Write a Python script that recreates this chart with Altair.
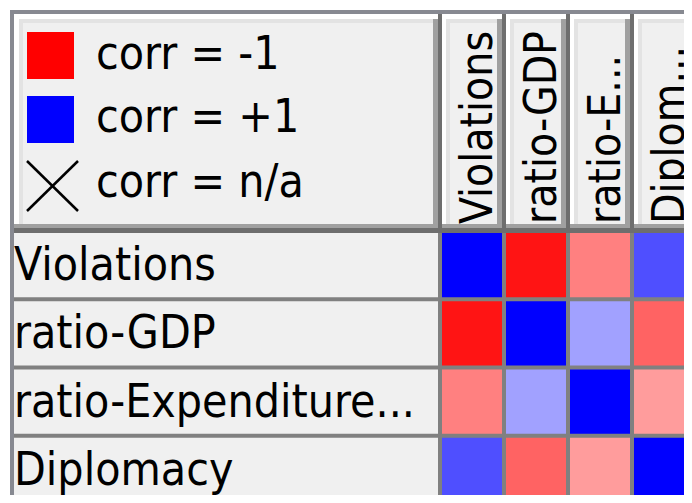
import altair as alt
import pandas as pd

# ---- data -------------------------------------------------------------
row_labels = ["Violations", "ratio-GDP", "ratio-Expenditure...", "Diplomacy"]
col_labels = ["Violations", "ratio-GDP", "ratio-E...", "Diplom..."]
corr_rows = [
    [1.00, -0.92, -0.50, 0.69],
    [-0.92, 1.00, 0.37, -0.61],
    [-0.50, 0.37, 1.00, -0.39],
    [0.69, -0.61, -0.39, 1.00],
]
legend_labels = ["corr = -1", "corr = +1", "corr = n/a"]
legend_values = [-1, 1]

# ---- tables built from the lists -------------------------------------
cells = pd.DataFrame([
    {"row": r, "col": c, "i": ci, "i1": ci + 1, "j": ri, "j1": ri + 1,
     "corr": corr_rows[ri][ci]}
    for ri, r in enumerate(row_labels) for ci, c in enumerate(col_labels)
])
cols_df = pd.DataFrame({"col": col_labels,
                        "i": list(range(len(col_labels))),
                        "i1": [k + 1 for k in range(len(col_labels))],
                        "ic": [k + 0.5 for k in range(len(col_labels))]})
rows_df = pd.DataFrame({"row": row_labels,
                        "j": list(range(len(row_labels))),
                        "j1": [k + 1 for k in range(len(row_labels))],
                        "jc": [k + 0.5 for k in range(len(row_labels))]})

# ---- style / layout ---------------------------------------------------
W, H = 676, 487
FONT = "Tahoma, 'DejaVu Sans Condensed', 'Liberation Sans', sans-serif"
FS = 46
FS_HEAD = 44
BORDER = "#878991"
DARK = "#6e6e6e"
GRID = "#808080"
SHADOW = "#a0a0a0"
LIGHT = "#e3e3e3"
FACE = "#f0f0f0"

xs = alt.Scale(domain=[0, 4], range=[432, 688], nice=False, zero=False)
ys = alt.Scale(domain=[0, 4], range=[223, 496], nice=False, zero=False)
corr_scale = alt.Scale(domain=[-1, 0, 1], range=["#ff0000", "#ffffff", "#0000ff"],
                       interpolate="rgb")

one = alt.Data(values=[{"k": 0}])


def vrect(x0, x1, y0, y1, fill):
    return alt.Chart(one).mark_rect(fill=fill).encode(
        x=alt.value(x0), x2=alt.value(x1), y=alt.value(y0), y2=alt.value(y1))


def hrect(f0, f1, o0, o1, y0, y1, fill):
    return alt.Chart(cols_df).mark_rect(fill=fill, xOffset=o0, x2Offset=o1).encode(
        x=alt.X(f"{f0}:Q", scale=xs, axis=None), x2=f"{f1}:Q",
        y=alt.value(y0), y2=alt.value(y1))


layers = []
# frame backgrounds
layers.append(vrect(2, W + 20, 2, H + 20, BORDER))
layers.append(vrect(6, W + 20, 6, 225, DARK))
layers.append(vrect(6, W + 20, 225, H + 20, GRID))

# legend box bevel
layers += [
    vrect(6, 430, 6, 220, SHADOW),
    vrect(6, 430, 6, 216, "#ffffff"),
    vrect(425, 430, 11, 216, SHADOW),
    vrect(11, 425, 11, 216, LIGHT),
    vrect(15, 425, 15, 216, FACE),
]

# column header boxes (one per column, through the x scale)
layers += [
    hrect("i", "i1", 2, -2, 6, 220, SHADOW),
    hrect("i", "i1", 2, -2, 6, 216, "#ffffff"),
    hrect("i1", "i1", -7, -2, 11, 216, SHADOW),
    hrect("i", "i1", 6, -7, 11, 216, LIGHT),
    hrect("i", "i1", 10, -7, 15, 216, FACE),
]

# row label boxes
layers.append(
    alt.Chart(rows_df).mark_rect(fill=FACE, yOffset=2, y2Offset=-2).encode(
        x=alt.value(6), x2=alt.value(430),
        y=alt.Y("j:Q", scale=ys, axis=None), y2="j1:Q")
)

# heat cells
layers.append(
    alt.Chart(cells).mark_rect(xOffset=2, x2Offset=-2, yOffset=2, y2Offset=-2).encode(
        x=alt.X("i:Q", scale=xs, axis=None), x2="i1:Q",
        y=alt.Y("j:Q", scale=ys, axis=None), y2="j1:Q",
        color=alt.Color("corr:Q", scale=corr_scale, legend=None),
    )
)

# row label text
layers.append(
    alt.Chart(rows_df).mark_text(align="left", baseline="alphabetic", font=FONT,
                                 fontSize=FS, color="#000000", yOffset=15).encode(
        x=alt.value(6), y=alt.Y("jc:Q", scale=ys, axis=None), text="row:N")
)

# column header text (rotated)
layers.append(
    alt.Chart(cols_df).mark_text(align="left", baseline="alphabetic", angle=270,
                                 font=FONT, fontSize=FS_HEAD, color="#000000",
                                 xOffset=20).encode(
        x=alt.X("ic:Q", scale=xs, axis=None), y=alt.value(216), text="col:N")
)

# legend swatches through the colour scale
swatch_tops = [24, 88]
for v, top in zip(legend_values, swatch_tops):
    layers.append(
        alt.Chart(alt.Data(values=[{"v": v}])).mark_rect().encode(
            x=alt.value(19), x2=alt.value(66), y=alt.value(top), y2=alt.value(top + 47),
            color=alt.Color("v:Q", scale=corr_scale, legend=None))
    )
# n/a cross
layers.append(alt.Chart(one).mark_rule(color="#000000", strokeWidth=2.5).encode(
    x=alt.value(19), y=alt.value(153), x2=alt.value(70), y2=alt.value(203)))
layers.append(alt.Chart(one).mark_rule(color="#000000", strokeWidth=2.5).encode(
    x=alt.value(70), y=alt.value(153), x2=alt.value(19), y2=alt.value(203)))

# legend labels
label_baselines = [61, 124, 189]
for lab, yb in zip(legend_labels, label_baselines):
    layers.append(
        alt.Chart(alt.Data(values=[{"t": lab}])).mark_text(
            align="left", baseline="alphabetic", font=FONT, fontSize=FS,
            color="#000000").encode(x=alt.value(88), y=alt.value(yb), text="t:N")
    )

chart = alt.layer(*layers).properties(
    width=W, height=H, padding=0, autosize=alt.AutoSizeParams(type="none"),
    background="#ffffff",
).configure_view(strokeWidth=0)

chart.save("out.html", embed_options={"renderer": "svg", "actions": False})
